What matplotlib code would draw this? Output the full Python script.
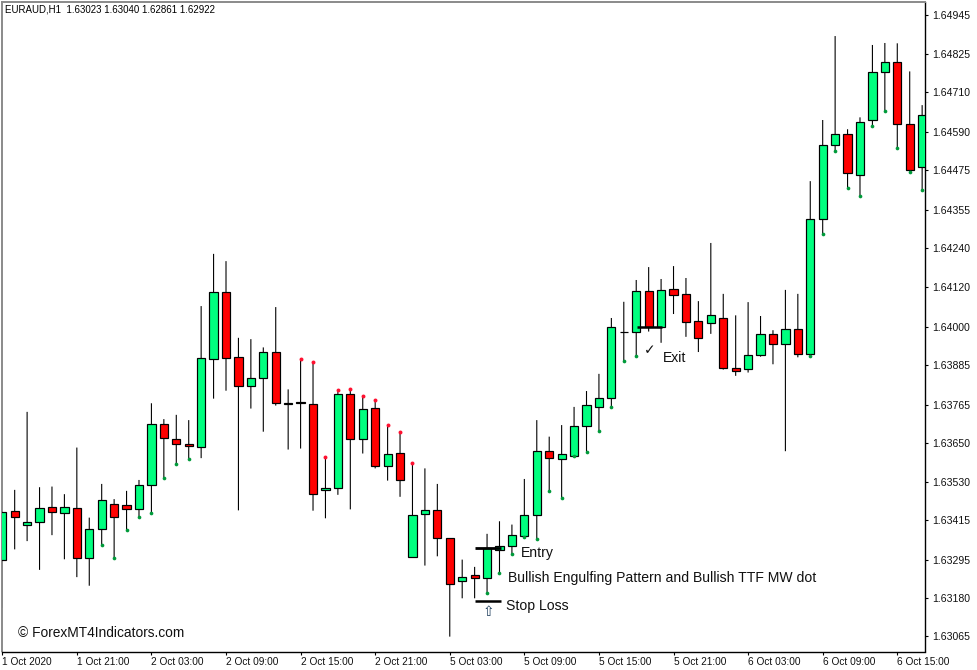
import numpy as np
import matplotlib
matplotlib.use('Agg')
import matplotlib.pyplot as plt

# EURAUD H1 candles, left to right
opens = [1.63294,1.63443,1.63401,1.63411,1.63454,1.63436,1.63451,1.63300,1.63390,1.63463,
         1.63460,1.63448,1.63521,1.63707,1.63660,1.63645,1.63636,1.63902,1.64105,1.63908,
         1.63820,1.63845,1.63923,1.63768,1.63772,1.63766,1.63507,1.63512,1.63796,1.63660,
         1.63754,1.63579,1.63618,1.63305,1.63434,1.63445,1.63361,1.63231,1.63249,1.63241,
         1.63326,1.63337,1.63368,1.63432,1.63624,1.63600,1.63610,1.63699,1.63759,1.63784,
         1.63984,1.63984,1.64109,1.64001,1.64114,1.64099,1.64017,1.64012,1.64026,1.63876,
         1.63872,1.63916,1.63978,1.63947,1.63993,1.63918,1.64326,1.64549,1.64584,1.64459,
         1.64625,1.64770,1.64800,1.64615,1.64483]
highs = [1.63441,1.63507,1.63743,1.63515,1.63517,1.63494,1.63635,1.63423,1.63525,1.63479,
         1.63504,1.63537,1.63769,1.63721,1.63734,1.63718,1.64063,1.64221,1.64199,1.63967,
         1.63963,1.63938,1.64060,1.63811,1.63904,1.63893,1.63607,1.63810,1.63812,1.63791,
         1.63778,1.63702,1.63682,1.63589,1.63572,1.63525,1.63361,1.63296,1.63274,1.63374,
         1.63412,1.63402,1.63540,1.63718,1.63668,1.63703,1.63758,1.63806,1.63858,1.64027,
         1.64076,1.64142,1.64181,1.64145,1.64184,1.64148,1.64078,1.64254,1.64100,1.64035,
         1.64075,1.64033,1.63990,1.64112,1.64100,1.64441,1.64626,1.64880,1.64598,1.64634,
         1.64853,1.64859,1.64858,1.64773,1.64671]
lows = [1.63150,1.63327,1.63352,1.63265,1.63370,1.63297,1.63243,1.63217,1.63340,1.63300,
        1.63385,1.63425,1.63436,1.63542,1.63584,1.63601,1.63603,1.63783,1.63807,1.63445,
        1.63753,1.63683,1.63762,1.63629,1.63632,1.63444,1.63421,1.63492,1.63448,1.63617,
        1.63572,1.63535,1.63486,1.63305,1.63278,1.63306,1.63063,1.63179,1.63179,1.63196,
        1.63254,1.63312,1.63365,1.63358,1.63505,1.63483,1.63609,1.63623,1.63685,1.63759,
        1.63897,1.63912,1.63986,1.63952,1.64039,1.63970,1.63924,1.63979,1.63871,1.63852,
        1.63862,1.63910,1.63887,1.63624,1.63908,1.63912,1.64281,1.64532,1.64421,1.64396,
        1.64607,1.64654,1.64542,1.64470,1.64414]
closes = [1.63441,1.63424,1.63411,1.63451,1.63441,1.63454,1.63300,1.63390,1.63476,1.63424,
          1.63448,1.63521,1.63707,1.63665,1.63645,1.63639,1.63905,1.64105,1.63907,1.63822,
          1.63845,1.63923,1.63769,1.63769,1.63770,1.63495,1.63512,1.63796,1.63660,1.63751,
          1.63579,1.63615,1.63536,1.63432,1.63445,1.63361,1.63222,1.63243,1.63241,1.63330,
          1.63338,1.63370,1.63432,1.63624,1.63604,1.63615,1.63699,1.63763,1.63784,1.63999,
          1.63986,1.64109,1.64001,1.64111,1.64097,1.64014,1.63966,1.64035,1.63875,1.63866,
          1.63914,1.63978,1.63947,1.63993,1.63918,1.64326,1.64551,1.64584,1.64465,1.64619,
          1.64770,1.64800,1.64614,1.64476,1.64640]

# candles that carry a TTF dot
dots_low = list(range(8, 16)) + list(range(39, 52)) + list(range(65, 75))
dots_high = list(range(24, 34))

price_ticks = [1.64945,1.64825,1.64710,1.64590,1.64475,1.64355,1.64240,1.64120,1.64000,
               1.63885,1.63765,1.63650,1.63530,1.63415,1.63295,1.63180,1.63065]
time_ticks = [0,6,12,18,24,30,36,42,48,54,60,66,72]
time_labels = ['1 Oct 2020','1 Oct 21:00','2 Oct 03:00','2 Oct 09:00','2 Oct 15:00','2 Oct 21:00',
               '5 Oct 03:00','5 Oct 09:00','5 Oct 15:00','5 Oct 21:00','6 Oct 03:00','6 Oct 09:00','6 Oct 15:00']

entry_level = 1.63330
stop_level = 1.63172
exit_level = 1.64001

W, H = 977, 670
plt.rcParams['font.family'] = ['Liberation Sans', 'DejaVu Sans']
fig = plt.figure(figsize=(W/100, H/100), dpi=100)
ax = fig.add_axes([2/W, 1-651.5/H, 923/W, 649.5/H])

opens, highs, lows, closes = map(np.array, (opens, highs, lows, closes))
x = np.arange(len(opens))
up = closes >= opens
px = 0.72  # one pixel in points

wicks = ax.vlines(x, lows, highs, color='black', lw=px*1.1, zorder=2)
wicks.set_snap(False)
tops = np.maximum(opens, closes)
bots = np.minimum(opens, closes)
ax.bar(x, tops-bots, bottom=bots, width=0.66, color=np.where(up, '#00FF7F', '#FF0000'),
       edgecolor='black', linewidth=px*1.2, zorder=3)

ax.scatter(x[dots_low], lows[dots_low], s=7, color='#009A3A', linewidths=0, zorder=4)
ax.scatter(x[dots_high], highs[dots_high], s=8, color='#FF1030', linewidths=0, zorder=4)

# entry / stop / exit levels
ax.hlines(entry_level, 38, 40.1, color='black', lw=2, zorder=5)
ax.hlines(stop_level, 38, 40.1, color='black', lw=1.8, zorder=5)
ax.hlines(exit_level, 51.05, 53.1, color='black', lw=1.8, zorder=5)

ax.set_xlim(-0.02, 74.23)
ax.set_ylim(1.63018, 1.64983)

ax.yaxis.tick_right()
ax.set_yticks(price_ticks)
ax.set_yticklabels(['%.5f' % p for p in price_ticks], fontsize=7.6, color='#111111')
ax.set_xticks(time_ticks)
ax.set_xticklabels(time_labels, fontsize=7.25, ha='left', color='#111111')
ax.tick_params(axis='y', length=2.4, width=0.8, pad=2.5)
ax.tick_params(axis='x', length=2.2, width=0.8, pad=2)

ax.spines['left'].set_color('#8a8a8a')
ax.spines['left'].set_linewidth(1.4)
ax.spines['top'].set_color('#8a8a8a')
ax.spines['top'].set_linewidth(1.4)
ax.spines['right'].set_linewidth(1)
ax.spines['bottom'].set_linewidth(1)


def label(xp, yp, s, **kw):
    fig.text(xp/W, 1-yp/H, s, va='center', **kw)


label(5, 9.5, 'EURAUD,H1  1.63023 1.63040 1.62861 1.62922', fontsize=7.0, color='black')
label(18, 633, '\u00a9 ForexMT4Indicators.com', fontsize=9.95, color='#111111')
label(521, 553, 'Entry', fontsize=10.05, color='#111111')
label(508, 578, 'Bullish Engulfing Pattern and Bullish TTF MW dot', fontsize=10.05, color='#111111')
label(506, 606, 'Stop Loss', fontsize=10.05, color='#111111')
label(663, 358, 'Exit', fontsize=10.05, color='#111111')
label(482.5, 612.5, '\u21e7', fontsize=10, color='#1a3a5a', family='DejaVu Sans')
label(644, 350, '\u2713', fontsize=10, color='#111111', family='DejaVu Sans')

fig.savefig('out.png', dpi=100)
